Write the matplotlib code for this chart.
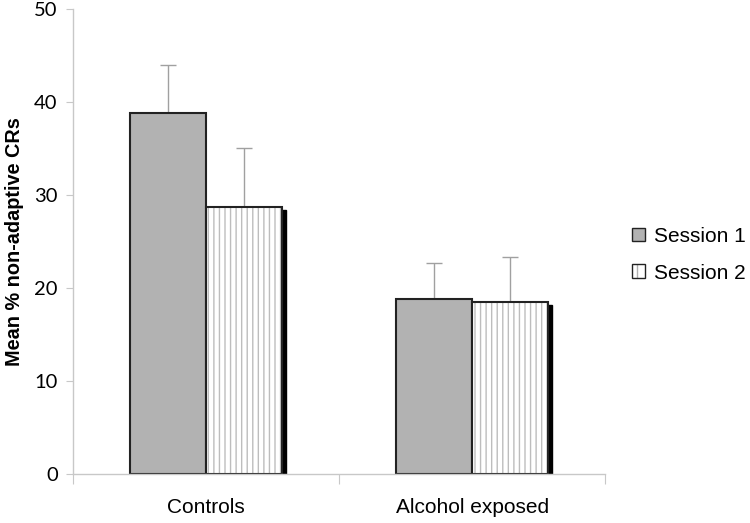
import numpy as np
import matplotlib
matplotlib.use("Agg")
import matplotlib.pyplot as plt
from matplotlib.transforms import ScaledTranslation
from matplotlib.patches import Patch
from matplotlib.legend_handler import HandlerTuple

groups = ["Controls", "Alcohol exposed"]
session_labels = ["Session 1", "Session 2"]
session1 = [38.8, 18.8]
session2 = [28.7, 18.5]
session1_err = [5.2, 3.9]
session2_err = [6.3, 4.8]

plt.rcParams["font.family"] = ["Liberation Sans", "DejaVu Sans"]
plt.rcParams["hatch.linewidth"] = 1.0

fig = plt.figure(figsize=(7.5, 5.23), dpi=100)
ax = fig.add_axes([0.0973, 0.0937, 0.7097, 0.8893])

x = np.arange(len(groups))
w = 0.286
x1 = x - w / 2
x2 = x + w / 2

# drop shadow behind the session 2 bars
shadow = ax.transData + ScaledTranslation(4 / 100, -3 / 100, fig.dpi_scale_trans)
ax.bar(x2, session2, w, color="black", edgecolor="black", transform=shadow, zorder=1)

ax.errorbar(x1, session1, yerr=[np.zeros(2), session1_err], fmt="none",
            ecolor="#a0a0a0", elinewidth=1, capsize=6, capthick=1, zorder=1.5)
ax.errorbar(x2, session2, yerr=[np.zeros(2), session2_err], fmt="none",
            ecolor="#a0a0a0", elinewidth=1, capsize=6, capthick=1, zorder=1.5)

ax.bar(x1, session1, w, color="#b2b2b2", edgecolor="#222222", linewidth=1.5, zorder=2)
ax.bar(x2, session2, w, color="white", edgecolor="#bdbdbd", linewidth=0,
       hatch="|||", zorder=2)
ax.bar(x2, session2, w, fill=False, edgecolor="#222222", linewidth=1.5, zorder=2.5)

ax.set_xlim(-0.5, 1.5)
ax.set_ylim(0, 50)
ax.set_yticks([0, 10, 20, 30, 40, 50])
ax.set_xticks([-0.5, 0.5, 1.5])
ax.set_xticklabels([])
ax.set_xticks(x, minor=True)
ax.set_xticklabels(groups, minor=True, fontsize=15)
ax.tick_params(axis="x", which="minor", length=0, pad=17)
ax.tick_params(axis="x", which="major", length=7, color="#c8c8c8")
ax.tick_params(axis="y", length=5, color="#c8c8c8", labelsize=14.5, pad=6)
for lbl in ax.get_yticklabels():
    lbl.set_family(["Lato", "DejaVu Sans"])

for s in ["top", "right"]:
    ax.spines[s].set_visible(False)
for s in ["left", "bottom"]:
    ax.spines[s].set_color("#c8c8c8")
    ax.spines[s].set_linewidth(1)

ax.set_ylabel("Mean % non-adaptive CRs", fontsize=14.3, fontweight="bold", labelpad=7)

h1 = Patch(facecolor="#b2b2b2", edgecolor="#222222", linewidth=1)
h2a = Patch(facecolor="white", edgecolor="#b0b0b0", linewidth=0, hatch="||")
h2b = Patch(fill=False, edgecolor="#222222", linewidth=1)
ax.legend([h1, (h2a, h2b)], session_labels, handler_map={tuple: HandlerTuple(ndivide=1, pad=0)},
          loc="center left", bbox_to_anchor=(0.842, 0.513), bbox_transform=fig.transFigure,
          frameon=False, fontsize=15, handlelength=0.65, handleheight=0.65,
          handletextpad=0.45, labelspacing=0.85, borderpad=0, borderaxespad=0)

fig.savefig("out.png", dpi=100)
